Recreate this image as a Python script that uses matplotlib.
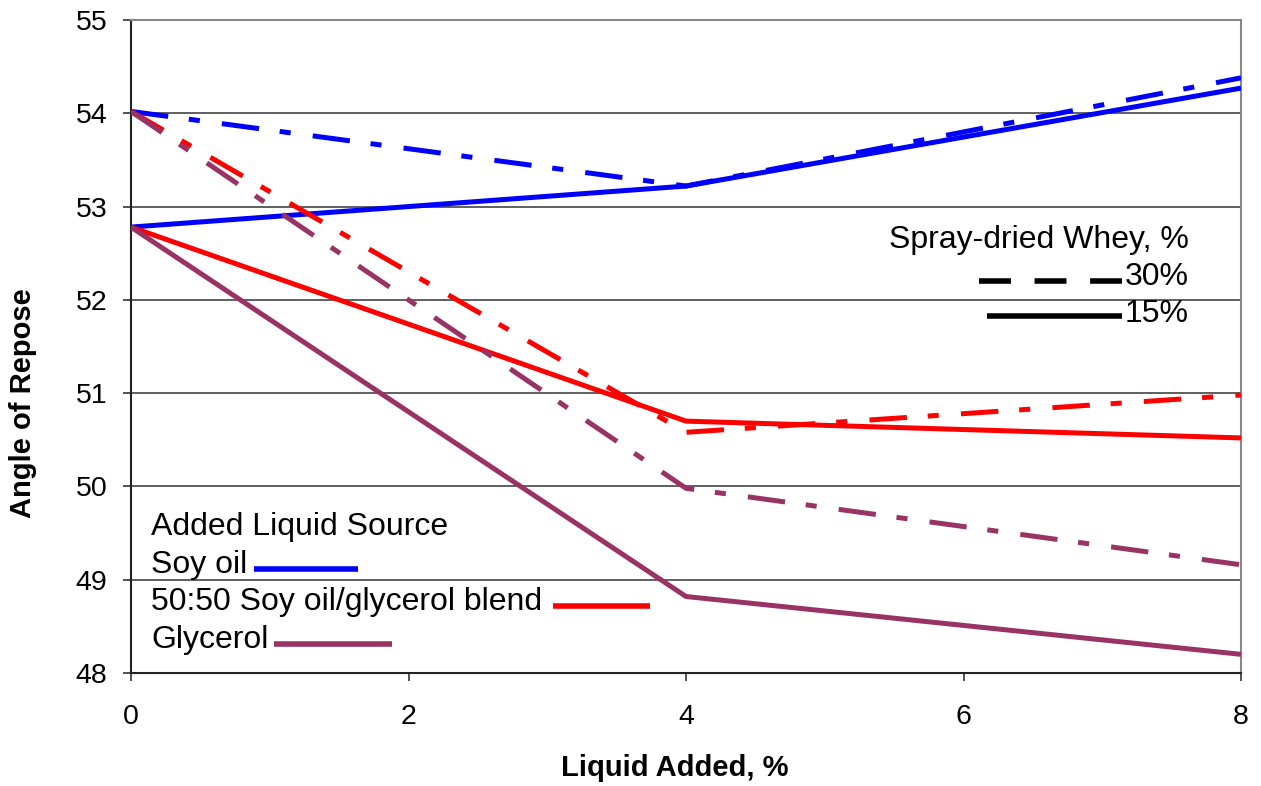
import matplotlib
matplotlib.use("Agg")
import matplotlib.pyplot as plt
from matplotlib.lines import Line2D

plt.rcParams['font.family'] = ['Liberation Sans', 'DejaVu Sans']
plt.rcParams['lines.scale_dashes'] = False

liquid_added = [0, 4, 8]
sources = ["Soy oil", "50:50 Soy oil/glycerol blend", "Glycerol"]
colors = ["#0000FF", "#FF0000", "#993366"]
whey_15 = {
    "Soy oil": [52.78, 53.22, 54.27],
    "50:50 Soy oil/glycerol blend": [52.78, 50.70, 50.52],
    "Glycerol": [52.78, 48.82, 48.20],
}
whey_30 = {
    "Soy oil": [54.02, 53.22, 54.38],
    "50:50 Soy oil/glycerol blend": [54.02, 50.58, 50.98],
    "Glycerol": [54.02, 49.98, 49.16],
}
x_ticks = [0, 2, 4, 6, 8]
y_ticks = [48, 49, 50, 51, 52, 53, 54, 55]

W, H = 1261, 786
fig = plt.figure(figsize=(W / 100, H / 100), dpi=100)
L, R, T, B = 131, 1241, 20, 673
ax = fig.add_axes([L / W, 1 - B / H, (R - L) / W, (B - T) / H])

lw = 3.6
dashdot = (0, (27, 15, 8, 16))
for src, c in zip(sources, colors):
    ax.plot(liquid_added, whey_15[src], color=c, lw=lw, solid_capstyle='butt', zorder=3)
    ax.plot(liquid_added, whey_30[src], color=c, lw=lw, linestyle=dashdot,
            dash_capstyle='butt', zorder=3)

ax.set_xlim(0, 8)
ax.set_ylim(48, 55)
ax.set_xticks(x_ticks)
ax.set_yticks(y_ticks)
ax.yaxis.grid(True, color='#444444', lw=1.2, zorder=1)
ax.tick_params(axis='both', direction='out', length=6, width=1.2, labelsize=20.5, color='#333333')
ax.tick_params(axis='x', pad=16)
ax.tick_params(axis='y', pad=11)
for s in ['left', 'bottom']:
    ax.spines[s].set_color('#222222')
    ax.spines[s].set_linewidth(1.5)
for s in ['top', 'right']:
    ax.spines[s].set_color('#888888')
    ax.spines[s].set_linewidth(1.5)

fig.text(675 / W, 1 - 768 / H, "Liquid Added, %", fontsize=21, fontweight='bold',
         ha='center', va='center')
fig.text(23 / W, 1 - 403 / H, "Angle of Repose", fontsize=21, fontweight='bold',
         ha='center', va='center', rotation=90)


def axx(px):
    return (px - L) / (R - L)


def axy(py):
    return (B - py) / (B - T)


# Added Liquid Source legend
fs = 23
ax.text(axx(151), axy(527), "Added Liquid Source", transform=ax.transAxes,
        fontsize=fs, va='center', ha='left', zorder=5)
leg_rows = [(565, 254, 358), (602, 553, 650), (640, 274, 392)]
for src, c, (py, x0, x1) in zip(sources, colors, leg_rows):
    ax.text(axx(151), axy(py), src, transform=ax.transAxes,
            fontsize=fs, va='center', ha='left', zorder=5)
    ax.add_line(Line2D([axx(x0), axx(x1)], [axy(py + 4), axy(py + 4)],
                       transform=ax.transAxes, color=c, lw=4, solid_capstyle='butt', zorder=5))

# Spray-dried whey legend
ax.text(axx(1189), axy(240), "Spray-dried Whey, %", transform=ax.transAxes,
        fontsize=fs, va='center', ha='right', zorder=5)
ax.text(axx(1189), axy(277), "30%", transform=ax.transAxes,
        fontsize=fs, va='center', ha='right', zorder=5)
ax.text(axx(1189), axy(314), "15%", transform=ax.transAxes,
        fontsize=fs, va='center', ha='right', zorder=5)
ax.add_line(Line2D([axx(979), axx(1122)], [axy(281), axy(281)], transform=ax.transAxes,
                   color='black', lw=4, linestyle=(0, (23, 17)), dash_capstyle='butt', zorder=5))
ax.add_line(Line2D([axx(987), axx(1122)], [axy(316), axy(316)], transform=ax.transAxes,
                   color='black', lw=4, solid_capstyle='butt', zorder=5))

fig.savefig("out.png", dpi=100)
